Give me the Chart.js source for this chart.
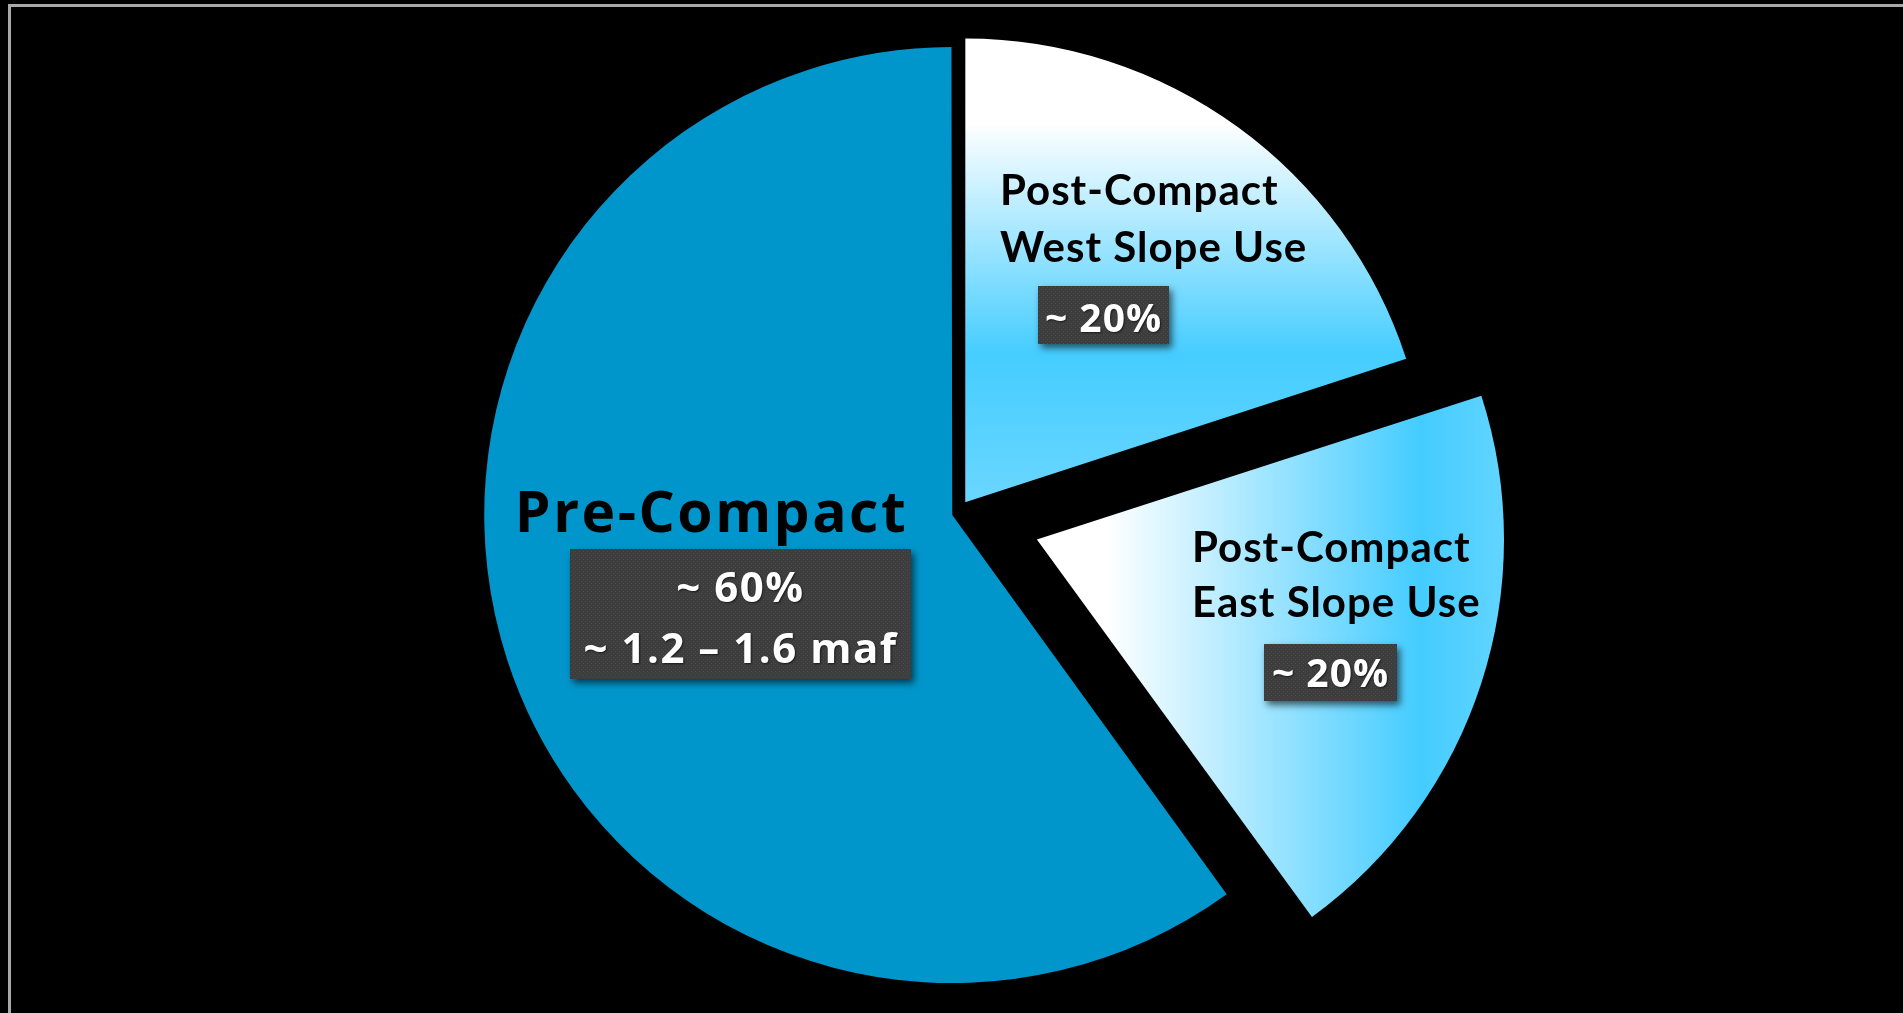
<!DOCTYPE html>
<html>
<head>
<meta charset="utf-8">
<title>Compact water use</title>
<script src="https://cdn.jsdelivr.net/npm/chart.js@4.4.1/dist/chart.umd.min.js"></script>
<style>
  html, body { margin: 0; padding: 0; background: #000; overflow: hidden; }
  #wrap { position: relative; width: 1903px; height: 1013px; }
  #frame { position: absolute; left: 8px; top: 4px; right: 0; bottom: 0;
           border-top: 3px solid #a8a8a8; border-left: 3px solid #a8a8a8; }
  #pie { position: absolute; left: 0; top: 0; }
</style>
</head>
<body>
<div id="wrap">
  <div id="frame"></div>
  <canvas id="pie" width="1903" height="1013"></canvas>
</div>
<script>
  // Slice data (clockwise from 12 o'clock)
  const categories = ['Post-Compact West Slope Use', 'Post-Compact East Slope Use', 'Pre-Compact'];
  const shares = [20, 20, 60];
  const titleLines = [['Post-Compact', 'West Slope Use'], ['Post-Compact', 'East Slope Use'], ['Pre-Compact']];
  const valueLines = [['~ 20%'], ['~ 20%'], ['~ 60%', '~ 1.2 \u2013 1.6 maf']];

  // Styling: explode distance (chart.js units, px * 4) and label placement relative to pie centre
  const explode = [56, 336, 20];
  const RADIUS = 463;
  const labelStyle = [
    { align: 'left', tx: 43, ty: [-308.5, -251.5], titleFont: 'bold 42px Lato', spacing: '1px',
      box: [81, -227.5, 131, 58], vx: 146.5, vy: [-181.5], valueFont: 'bold 39px "Open Sans"', vSpacing: '1px' },
    { align: 'left', tx: 235, ty: [48.5, 103.5], titleFont: 'bold 42px Lato', spacing: '1px',
      box: [307, 130.5, 133, 57], vx: 373.5, vy: [173.5], valueFont: 'bold 39px "Open Sans"', vSpacing: '1px' },
    { align: 'center', tx: -245.5, ty: [18.5], titleFont: 'bold 57px "Open Sans"', spacing: '2.5px',
      box: [-387, 35.5, 341, 130], vx: -216.5, vy: [88, 149], valueFont: 'bold 42px "Open Sans"', vSpacing: '1.5px' }
  ];

  // Gradient fills, like the slide's white-to-cyan slices
  function sliceFill(context) {
    const i = context.dataIndex;
    const chart = context.chart;
    const area = chart.chartArea;
    if (i === 2) return '#0096cb';
    if (!area) return '#44ccff';
    const cx = (area.left + area.right) / 2;
    const cy = (area.top + area.bottom) / 2;
    const c = chart.ctx;
    let g;
    if (i === 0) {
      g = c.createLinearGradient(0, cy - RADIUS, 0, cy);
      g.addColorStop(0, '#ffffff');
      g.addColorStop(0.18, '#ffffff');
      g.addColorStop(0.68, '#45cdff');
      g.addColorStop(1, '#6ad6ff');
    } else {
      g = c.createLinearGradient(cx, 0, cx + RADIUS, 0);
      g.addColorStop(0, '#ffffff');
      g.addColorStop(0.15, '#ffffff');
      g.addColorStop(0.83, '#44ccff');
      g.addColorStop(1, '#60d4ff');
    }
    return g;
  }

  // Dotted texture for the value boxes
  function makeDots(ctx) {
    const tile = document.createElement('canvas');
    tile.width = 4; tile.height = 4;
    const t = tile.getContext('2d');
    t.fillStyle = '#3d3d3d';
    t.fillRect(0, 0, 4, 4);
    t.fillStyle = '#4b4b4b';
    t.fillRect(1, 1, 1, 1);
    t.fillRect(3, 3, 1, 1);
    return ctx.createPattern(tile, 'repeat');
  }

  const labelPlugin = {
    id: 'sliceLabels',
    afterDatasetsDraw(chart) {
      const c = chart.ctx;
      const dots = makeDots(c);
      chart.getDatasetMeta(0).data.forEach((arc, i) => {
        const s = labelStyle[i];
        const x0 = arc.x, y0 = arc.y;
        c.save();
        // category title
        c.fillStyle = '#000';
        c.font = s.titleFont;
        c.letterSpacing = s.spacing;
        c.textAlign = s.align;
        c.textBaseline = 'alphabetic';
        titleLines[i].forEach((t, k) => c.fillText(t, x0 + s.tx, y0 + s.ty[k]));
        // value box with shadow
        c.shadowColor = 'rgba(0,0,0,0.6)';
        c.shadowBlur = 7;
        c.shadowOffsetX = 3;
        c.shadowOffsetY = 4;
        c.fillStyle = '#404040';
        c.fillRect(x0 + s.box[0], y0 + s.box[1], s.box[2], s.box[3]);
        c.shadowColor = 'transparent';
        c.fillStyle = dots;
        c.fillRect(x0 + s.box[0], y0 + s.box[1], s.box[2], s.box[3]);
        // value text
        c.fillStyle = '#ffffff';
        c.font = s.valueFont;
        c.letterSpacing = s.vSpacing;
        c.textAlign = 'center';
        c.shadowColor = 'rgba(0,0,0,0.6)';
        c.shadowBlur = 2;
        c.shadowOffsetX = 1;
        c.shadowOffsetY = 1;
        valueLines[i].forEach((t, k) => c.fillText(t, x0 + s.vx, y0 + s.vy[k]));
        c.restore();
      });
    }
  };

  new Chart(document.getElementById('pie').getContext('2d'), {
    type: 'pie',
    data: {
      labels: categories,
      datasets: [{
        data: shares,
        backgroundColor: sliceFill,
        borderWidth: 0,
        offset: explode,
        hoverOffset: 0
      }]
    },
    options: {
      responsive: false,
      animation: false,
      events: [],
      rotation: 0,
      radius: RADIUS,
      layout: { padding: { left: 11, top: 14 } },
      plugins: {
        legend: { display: false },
        tooltip: { enabled: false }
      }
    },
    plugins: [labelPlugin]
  });
</script>
</body>
</html>
